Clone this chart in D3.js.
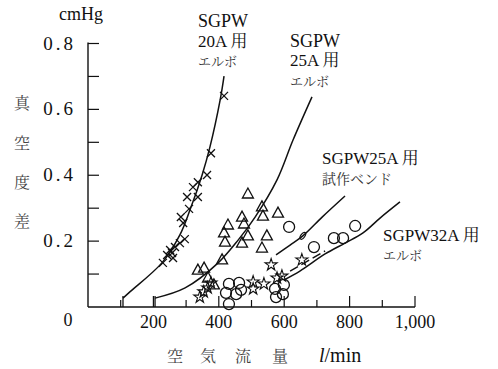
<!DOCTYPE html>
<html><head><meta charset="utf-8">
<script src="https://cdn.jsdelivr.net/npm/d3@7"></script>
<style>
html,body{margin:0;padding:0;background:#fff;}
svg{display:block;}
</style></head>
<body>
<script>
// ---- data ----
const xTicks = [100,200,300,400,500,600,700,800,900,1000];
const xTickLabels = [[0,"0"],[200,"200"],[400,"400"],[600,"600"],[800,"800"],[1000,"1,000"]];
const yTicks = [0.1,0.2,0.3,0.4,0.5,0.6,0.7,0.8];
const yTickLabels = [0.2,0.4,0.6,0.8];

// [flow l/min, vacuum difference cmHg]
const elbow20A_points = [[416,0.641],[376,0.467],[364,0.401],[336,0.379],[321,0.364],[303,0.334],[336,0.334],
  [309,0.298],[284,0.273],[291,0.255],[281,0.194],[266,0.182],[251,0.173],[257,0.164],[242,0.158],[260,0.149],[229,0.134],[296,0.206]];
const elbow25A_points = [[489,0.343],[532,0.304],[535,0.276],[581,0.285],[471,0.273],[477,0.252],[428,0.249],
  [416,0.225],[419,0.197],[489,0.216],[471,0.194],[547,0.216],[532,0.179],[410,0.143],[336,0.112],[355,0.118],[367,0.088],[385,0.067]];
const bend25A_points = [[342,0.030],[354,0.046],[366,0.058],[376,0.073],[505,0.076],[505,0.055],[538,0.070],
  [560,0.128],[578,0.088],[593,0.094],[654,0.143]];
const elbow32A_points = [[431,0.070],[462,0.073],[422,0.043],[453,0.039],[431,0.009],[468,0.052],
  [572,0.055],[599,0.067],[596,0.039],[575,0.030],
  [615,0.243],[691,0.182],[752,0.209],[780,0.209],[817,0.246]];

const elbow20A_curve = [[107,0.027],[128,0.046],[226,0.134],[281,0.219],[312,0.295],[349,0.401],[373,0.486],[404,0.628],[416,0.701]];
const elbow25A_curve = [[205,0.027],[297,0.058],[398,0.134],[459,0.203],[511,0.273],[578,0.386],[627,0.507],[685,0.638]];
const bend25A_curve = [[575,0.158],[618,0.188],[657,0.216],[716,0.273],[786,0.337]];
const elbow32A_curve = [[599,0.082],[648,0.109],[725,0.161],[786,0.194],[841,0.225],[893,0.270],[954,0.319]];
const elbow32A_dashed = [[618,0.109],[725,0.170]];
const bendMarker = [657,0.216];

// ---- drawing ----
const SERIF = "Liberation Serif";
const JP = "Noto Serif CJK JP";
const W = 498, H = 369;
const svg = d3.select("body").append("svg").attr("width",W).attr("height",H);
const x = d3.scaleLinear().domain([0,1000]).range([88,415]);
const y = d3.scaleLinear().domain([0,0.8]).range([307,43.5]);

// axes lines
svg.append("line").attr("x1",x(0)).attr("x2",x(0)).attr("y1",y(0)).attr("y2",y(0.8)-1)
  .attr("stroke","#111").attr("stroke-width",1.4);
svg.append("line").attr("x1",x(0)).attr("x2",x(1000)).attr("y1",y(0)).attr("y2",y(0))
  .attr("stroke","#111").attr("stroke-width",1.4);

// y ticks (inward)
svg.selectAll(".yt").data(yTicks).enter().append("line")
  .attr("x1",x(0)).attr("x2",x(0)+11).attr("y1",d=>y(d)).attr("y2",d=>y(d))
  .attr("stroke","#111").attr("stroke-width",1.2);
svg.selectAll(".yl").data(yTickLabels).enter().append("text")
  .attr("x",76).attr("y",d=>y(d)+6).attr("text-anchor","end")
  .attr("font-family",SERIF).attr("font-size",19).attr("letter-spacing",3).attr("fill","#111")
  .text(d=>d3.format(".1f")(d));

// x ticks (upward)
svg.selectAll(".xt").data(xTicks).enter().append("line")
  .attr("x1",d=>x(d)).attr("x2",d=>x(d)).attr("y1",y(0)).attr("y2",d=>y(0)-(d%200===0?11:7))
  .attr("stroke","#111").attr("stroke-width",1.2);
svg.selectAll(".xl").data(xTickLabels).enter().append("text")
  .attr("x",d=>d[0]===0?68:x(d[0])).attr("y",d=>d[0]===0?326:328).attr("text-anchor","middle")
  .attr("font-family",SERIF).attr("font-size",18).attr("fill","#111").text(d=>d[1]);

// axis titles
svg.append("text").attr("x",81).attr("y",20).attr("text-anchor","middle")
  .attr("font-family",SERIF).attr("font-size",18).attr("fill","#111").text("cmHg");
const yTitle = ["真","空","度","差"];
const yTitleY = [103,143,182,221];
svg.selectAll(".ytt").data(yTitle).enter().append("text")
  .attr("x",22).attr("y",(d,i)=>yTitleY[i]+6).attr("text-anchor","middle")
  .attr("font-family",JP).attr("font-size",16).attr("fill","#444").text(d=>d);
const xTitle = ["空","気","流","量"];
const xTitleX = [175,208,243,280];
svg.selectAll(".xtt").data(xTitle).enter().append("text")
  .attr("x",(d,i)=>xTitleX[i]).attr("y",362).attr("text-anchor","middle")
  .attr("font-family",JP).attr("font-size",16).attr("fill","#444").text(d=>d);
const xt = svg.append("text").attr("x",319).attr("y",362)
  .attr("font-family",SERIF).attr("font-size",20).attr("fill","#111");
xt.append("tspan").attr("font-style","italic").text("l");
xt.append("tspan").text("/min");

// curves
const line = d3.line().x(d=>x(d[0])).y(d=>y(d[1])).curve(d3.curveCatmullRom.alpha(0.5));
[elbow20A_curve, elbow25A_curve, bend25A_curve, elbow32A_curve].forEach(c=>{
  svg.append("path").attr("d",line(c)).attr("fill","none").attr("stroke","#111").attr("stroke-width",1.5);
});
svg.append("path").attr("d",d3.line().x(d=>x(d[0])).y(d=>y(d[1]))(elbow32A_dashed))
  .attr("fill","none").attr("stroke","#111").attr("stroke-width",1.5).attr("stroke-dasharray","9,4");
[elbow20A_curve[0], elbow25A_curve[0]].forEach(p=>{
  svg.append("line").attr("x1",x(p[0])).attr("x2",x(p[0])).attr("y1",y(p[1])-2).attr("y2",y(0))
    .attr("stroke","#111").attr("stroke-width",1.3);
});
svg.append("ellipse").attr("cx",x(bendMarker[0])).attr("cy",y(bendMarker[1])).attr("rx",2).attr("ry",4)
  .attr("transform",`rotate(35,${x(bendMarker[0])},${y(bendMarker[1])})`)
  .attr("fill","none").attr("stroke","#111").attr("stroke-width",1.2);

// markers
const g = svg.append("g").attr("fill","none").attr("stroke","#111").attr("stroke-width",1.3);
g.selectAll(".cr").data(elbow20A_points).enter().append("path")
  .attr("d",d=>{const cx=x(d[0]),cy=y(d[1]),r=4;return `M${cx-r},${cy-r}L${cx+r},${cy+r}M${cx-r},${cy+r}L${cx+r},${cy-r}`;});
g.selectAll(".tr").data(elbow25A_points).enter().append("path")
  .attr("d",d=>{const cx=x(d[0]),cy=y(d[1]);return `M${cx},${cy-6}L${cx+5.5},${cy+4}L${cx-5.5},${cy+4}Z`;});
const star = d3.symbol().type(d3.symbolStar).size(45);
g.selectAll(".st").data(bend25A_points).enter().append("path")
  .attr("transform",d=>`translate(${x(d[0])},${y(d[1])})`).attr("d",star()).attr("stroke-width",1.1);
g.selectAll(".ci").data(elbow32A_points).enter().append("circle")
  .attr("cx",d=>x(d[0])).attr("cy",d=>y(d[1])).attr("r",5.5);

// annotations: each line is [baseline, latin part, japanese part, size]
function label(x0, lines){
  lines.forEach(l=>{
    const t = svg.append("text").attr("x",x0).attr("y",l[0]).attr("font-size",l[3]).attr("fill","#111");
    if (l[1]) t.append("tspan").attr("font-family",SERIF).text(l[1]);
    if (l[2]) t.append("tspan").attr("font-family",JP).attr("fill",l[1]?"#111":"#333").text(l[2]);
  });
}
label(198, [[27,"SGPW","",18],[47,"20A ","用",17],[66,"","エルボ",13]]);
label(290, [[47,"SGPW","",18],[66,"25A ","用",17],[86,"","エルボ",13]]);
label(322, [[164,"SGPW25A ","用",17],[184,"","試作ベンド",14]]);
label(383, [[241,"SGPW32A ","用",17],[260,"","エルボ",13]]);
</script>
</body></html>
